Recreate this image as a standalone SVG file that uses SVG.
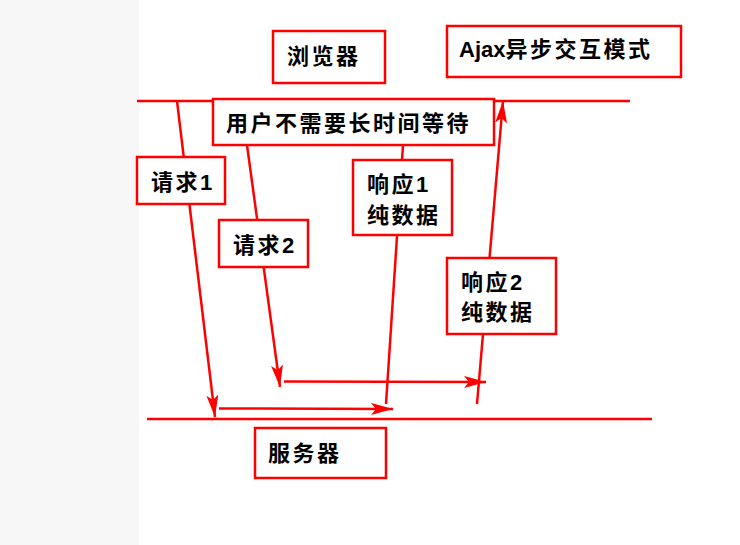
<svg xmlns="http://www.w3.org/2000/svg" width="740" height="545" viewBox="0 0 740 545">
<style>
.box{fill:#fff;stroke:#ff0000;stroke-width:2.5}
.ln{stroke:#ff0000;stroke-width:2.5;fill:none}
.t{font-family:"Liberation Sans","Noto Sans CJK SC",sans-serif;font-size:22px;font-weight:bold;fill:#000;letter-spacing:2.5px}
</style>
<defs>
<marker id="ah" viewBox="0 0 22 12" refX="22" refY="6" markerWidth="22" markerHeight="12" markerUnits="userSpaceOnUse" orient="auto">
<path d="M0,0 L22,6 L0,12 L5,6 Z" fill="#ff0000"/>
</marker>
</defs>
<rect x="0" y="0" width="139" height="545" fill="#f7f7f7"/>
<rect x="139" y="0" width="601" height="545" fill="#fff"/>
<g id="connectors">
<line class="ln" x1="137" y1="101" x2="630" y2="101"/>
<line class="ln" x1="147" y1="419" x2="652" y2="419"/>
<line class="ln" x1="177" y1="101" x2="215" y2="417" marker-end="url(#ah)"/>
<line class="ln" x1="219" y1="408.5" x2="393" y2="409" marker-end="url(#ah)"/>
<line class="ln" x1="247" y1="145" x2="280" y2="387" marker-end="url(#ah)"/>
<line class="ln" x1="284" y1="381.5" x2="486" y2="382" marker-end="url(#ah)"/>
<line class="ln" x1="386" y1="404" x2="403" y2="145"/>
<line class="ln" x1="477" y1="404" x2="503" y2="101" marker-end="url(#ah)"/>
</g>
<g id="browser"><rect class="box" x="273" y="31" width="112" height="52"/><text class="t" x="287" y="64">浏览器</text></g>
<g id="title"><rect class="box" x="447" y="26" width="234" height="51"/><text class="t" x="459" y="57"><tspan letter-spacing="0">Ajax</tspan>异步交互模式</text></g>
<g id="wait"><rect class="box" x="213" y="99" width="281" height="46"/><text class="t" x="226" y="131">用户不需要长时间等待</text></g>
<g id="req1"><rect class="box" x="137" y="157" width="88" height="47"/><text class="t" x="151" y="190">请求1</text></g>
<g id="req2"><rect class="box" x="219" y="220" width="89" height="47"/><text class="t" x="233" y="253">请求2</text></g>
<g id="resp1"><rect class="box" x="353" y="160" width="99" height="75"/><text class="t" x="367" y="192">响应1</text><text class="t" x="367" y="223">纯数据</text></g>
<g id="resp2"><rect class="box" x="447" y="258" width="109" height="76"/><text class="t" x="461" y="290">响应2</text><text class="t" x="461" y="320">纯数据</text></g>
<g id="server"><rect class="box" x="255" y="428" width="131" height="50"/><text class="t" x="268" y="461">服务器</text></g>
</svg>
